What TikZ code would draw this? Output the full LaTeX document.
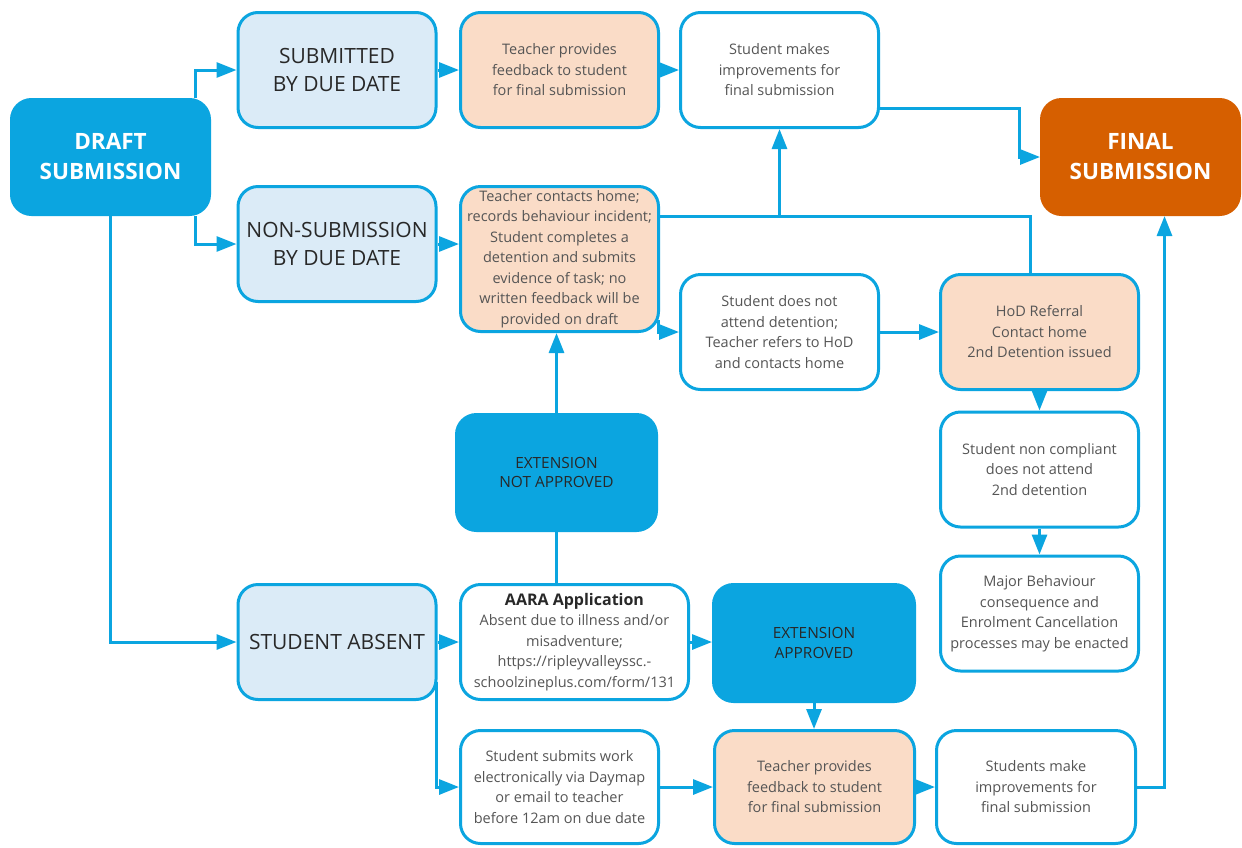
\documentclass[tikz,border=0pt]{standalone}
\usepackage{fontspec}
\setmainfont{Open Sans}
\usetikzlibrary{arrows.meta,calc}
\definecolor{cblue}{RGB}{11,165,224}
\definecolor{clight}{RGB}{219,235,247}
\definecolor{cpeach}{RGB}{250,220,199}
\definecolor{corange}{RGB}{214,95,0}
\definecolor{ctext}{RGB}{40,40,40}
\definecolor{cgray}{RGB}{85,85,85}
\begin{document}
\begin{tikzpicture}[x=1pt,y=-1pt,
 box/.style={draw=cblue, line width=3pt, rounded corners=20pt, align=center, inner sep=0pt, minimum width=198pt, minimum height=115pt},
 lightbox/.style={box, fill=clight, text=ctext, font=\fontsize{21}{28.5}\selectfont},
 peachbox/.style={box, fill=cpeach, text=cgray, font=\fontsize{14.5}{20.5}\selectfont},
 whitebox/.style={box, fill=white, text=cgray, font=\fontsize{14.5}{20.5}\selectfont},
 bluebox/.style={box, fill=cblue, text=ctext, font=\fontsize{15.4}{19.5}\selectfont},
 bigbox/.style={box, fill=cblue, text=white, font=\bfseries\fontsize{22.5}{30}\selectfont},
 finalbox/.style={bigbox, draw=corange, fill=corange},
 conn/.style={draw=cblue, line width=3pt},
 arr/.style={conn, -{Triangle[length=20pt,width=15pt]}},
]
\useasboundingbox (0,0) rectangle (1242,847);
\fill[white] (0,0) rectangle (1242,847);

% nodes
\node[bigbox] (draft) at (110.5,157) {DRAFT\\SUBMISSION};
\node[lightbox] (sub) at (337,70) {SUBMITTED\\BY DUE DATE};
\node[peachbox] (tfb1) at (559.5,70) {Teacher provides\\feedback to student\\for final submission};
\node[whitebox] (imp1) at (779.5,70) {Student makes\\improvements for\\final submission};
\node[finalbox] (final) at (1140.5,157) {FINAL\\SUBMISSION};
\node[lightbox] (nonsub) at (337,244) {NON-SUBMISSION\\BY DUE DATE};
\node[peachbox, minimum height=145pt] (tch) at (559.5,259) {Teacher contacts home;\\records behaviour incident;\\Student completes a\\detention and submits\\evidence of task; no\\written feedback will be\\provided on draft};
\node[whitebox] (noattend) at (779.5,332) {Student does not\\attend detention;\\Teacher refers to HoD\\and contacts home};
\node[peachbox] (hod) at (1039.5,332) {HoD Referral\\Contact home\\2nd Detention issued};
\node[whitebox] (noncomp) at (1039.5,469.5) {Student non compliant\\does not attend\\2nd detention};
\node[whitebox] (major) at (1039.5,613.5) {Major Behaviour\\consequence and\\Enrolment Cancellation\\processes may be enacted};
\node[bluebox, minimum width=200pt, minimum height=116pt] (extna) at (556.5,472.5) {EXTENSION\\NOT APPROVED};
\node[lightbox] (absent) at (337,642) {STUDENT ABSENT};
\node[whitebox, minimum width=228pt] (aara) at (574.5,642) {\textcolor{ctext}{\bfseries\fontsize{16}{20}\selectfont AARA Application}\\Absent due to illness and/or\\misadventure;\\https://ripleyvalleyssc.-\\schoolzineplus.com/form/131};
\node[bluebox, minimum width=201pt, minimum height=117pt] (extap) at (814,643) {EXTENSION\\APPROVED};
\node[whitebox, minimum height=113pt] (submits) at (559.5,787) {Student submits work\\electronically via Daymap\\or email to teacher\\before 12am on due date};
\node[peachbox, minimum width=200pt, minimum height=113pt] (tfb2) at (814.5,787) {Teacher provides\\feedback to student\\for final submission};
\node[whitebox, minimum width=199pt, minimum height=113pt] (imp2) at (1036,787) {Students make\\improvements for\\final submission};

% connectors
\draw[arr] ($(draft.north east)+(-16,0)$) |- (sub.west);
\draw[arr] ($(draft.south east)+(-16,0)$) |- (nonsub.west);
\draw[arr] (draft.south) |- (absent.west);
\draw[arr] (sub.east) -- (tfb1.west);
\draw[arr] (tfb1.east) -- (imp1.west);
\draw[arr] ($(imp1.east)+(0,38)$) -| ($(final.west)+(-21,0)$) -- (final.west);
\draw[arr] (nonsub.east) -- (nonsub.east -| tch.west);
\coordinate (j) at (779.5,216);
\draw[arr] (tch.east |- j) -| (imp1.south);
\draw[conn] ($(hod.north)+(-9,0)$) |- (j);
\draw[arr] ($(tch.east)+(-2,61)$) |- (noattend.west);
\draw[arr] (noattend.east) -- (hod.west);
\draw[arr] (hod.south) -- (noncomp.north);
\draw[arr] (noncomp.south) -- (major.north);
\draw[arr] (extna.north) -- (extna.north |- tch.south);
\draw[conn] (extna.south) -- (extna.south |- aara.north);
\draw[arr] (absent.east) -- (aara.west);
\draw[arr] (aara.east) -- (aara.east -| extap.west);
\draw[arr] ($(absent.east)+(-1,40)$) |- (submits.west);
\draw[arr] (submits.east) -- (tfb2.west);
\draw[arr] (extap.south) -- (extap.south |- tfb2.north);
\draw[arr] (tfb2.east) -- (imp2.west);
\draw[arr] (imp2.east) -| ($(final.south)+(24,0)$);
\end{tikzpicture}
\end{document}
